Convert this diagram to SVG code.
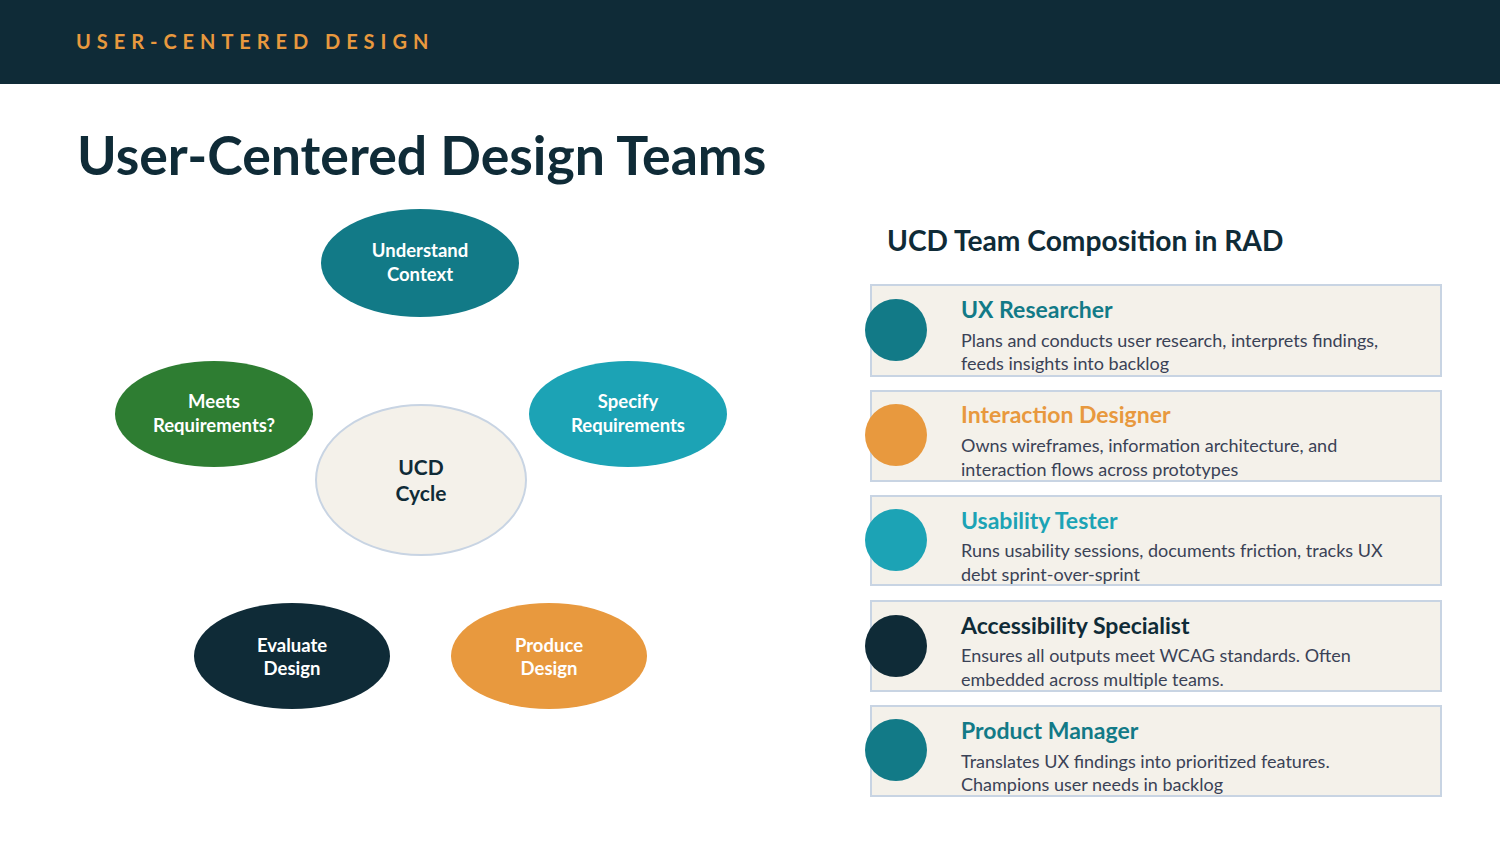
<svg xmlns="http://www.w3.org/2000/svg" width="1500" height="844" viewBox="0 0 1500 844">
<style>
text{font-family:Lato,"Open Sans","Liberation Sans",sans-serif}
.el{font-weight:700;font-size:18.5px;fill:#ffffff;text-anchor:middle}
.card{fill:#f4f1ea;stroke:#c8d4e3;stroke-width:2}
.ct{font-weight:700;font-size:23px}
.cd{font-size:18px;fill:#3a4256}
</style>
<rect x="0" y="0" width="1500" height="84" fill="#0f2b37"/>
<text x="76" y="49" font-size="20" font-weight="700" fill="#e8993e" letter-spacing="5.95">USER-CENTERED DESIGN</text>
<text x="77" y="175" font-size="53.6" font-weight="700" fill="#0f2b37">User-Centered Design Teams</text>

<g id="connectors"></g>

<g id="understand"><ellipse cx="420" cy="263" rx="99" ry="54" fill="#127a87"/><text class="el" x="420" y="257">Understand</text><text class="el" x="420" y="281">Context</text></g>
<g id="meets"><ellipse cx="214" cy="414" rx="99" ry="53" fill="#2e7d32"/><text class="el" x="214" y="408">Meets</text><text class="el" x="214" y="432">Requirements?</text></g>
<g id="specify"><ellipse cx="628" cy="414" rx="99" ry="53" fill="#1ca3b5"/><text class="el" x="628" y="408">Specify</text><text class="el" x="628" y="432">Requirements</text></g>
<g id="ucd"><ellipse cx="421" cy="480" rx="105" ry="75" fill="#f4f1ea" stroke="#c8d4e3" stroke-width="2"/><text x="421" y="475" font-size="21" font-weight="700" fill="#0f2b37" text-anchor="middle">UCD</text><text x="421" y="501" font-size="21" font-weight="700" fill="#0f2b37" text-anchor="middle">Cycle</text></g>
<g id="evaluate"><ellipse cx="292" cy="656" rx="98" ry="53" fill="#0f2b37"/><text class="el" x="292" y="652">Evaluate</text><text class="el" x="292" y="675">Design</text></g>
<g id="produce"><ellipse cx="549" cy="656" rx="98" ry="53" fill="#e8993e"/><text class="el" x="549" y="652">Produce</text><text class="el" x="549" y="675">Design</text></g>

<text x="887" y="251" font-size="28.2" font-weight="700" fill="#0f2b37">UCD Team Composition in RAD</text>

<g id="card1"><rect class="card" x="871" y="285" width="570" height="91"/><circle cx="896" cy="330" r="31" fill="#127a87"/><text class="ct" x="961" y="318" fill="#127a87">UX Researcher</text><text class="cd" x="961" y="347">Plans and conducts user research, interprets findings,</text><text class="cd" x="961" y="370">feeds insights into backlog</text></g>
<g id="card2"><rect class="card" x="871" y="391" width="570" height="90"/><circle cx="896" cy="435" r="31" fill="#e8993e"/><text class="ct" x="961" y="423" fill="#e8993e">Interaction Designer</text><text class="cd" x="961" y="452">Owns wireframes, information architecture, and</text><text class="cd" x="961" y="476">interaction flows across prototypes</text></g>
<g id="card3"><rect class="card" x="871" y="496" width="570" height="89"/><circle cx="896" cy="540" r="31" fill="#1ca3b5"/><text class="ct" x="961" y="529" fill="#1ca3b5">Usability Tester</text><text class="cd" x="961" y="557">Runs usability sessions, documents friction, tracks UX</text><text class="cd" x="961" y="581">debt sprint-over-sprint</text></g>
<g id="card4"><rect class="card" x="871" y="601" width="570" height="90"/><circle cx="896" cy="646" r="31" fill="#0f2b37"/><text class="ct" x="961" y="634" fill="#0f2b37">Accessibility Specialist</text><text class="cd" x="961" y="662">Ensures all outputs meet WCAG standards. Often</text><text class="cd" x="961" y="686">embedded across multiple teams.</text></g>
<g id="card5"><rect class="card" x="871" y="706" width="570" height="90"/><circle cx="896" cy="750" r="31" fill="#127a87"/><text class="ct" x="961" y="739" fill="#127a87">Product Manager</text><text class="cd" x="961" y="768">Translates UX findings into prioritized features.</text><text class="cd" x="961" y="791">Champions user needs in backlog</text></g>
</svg>
